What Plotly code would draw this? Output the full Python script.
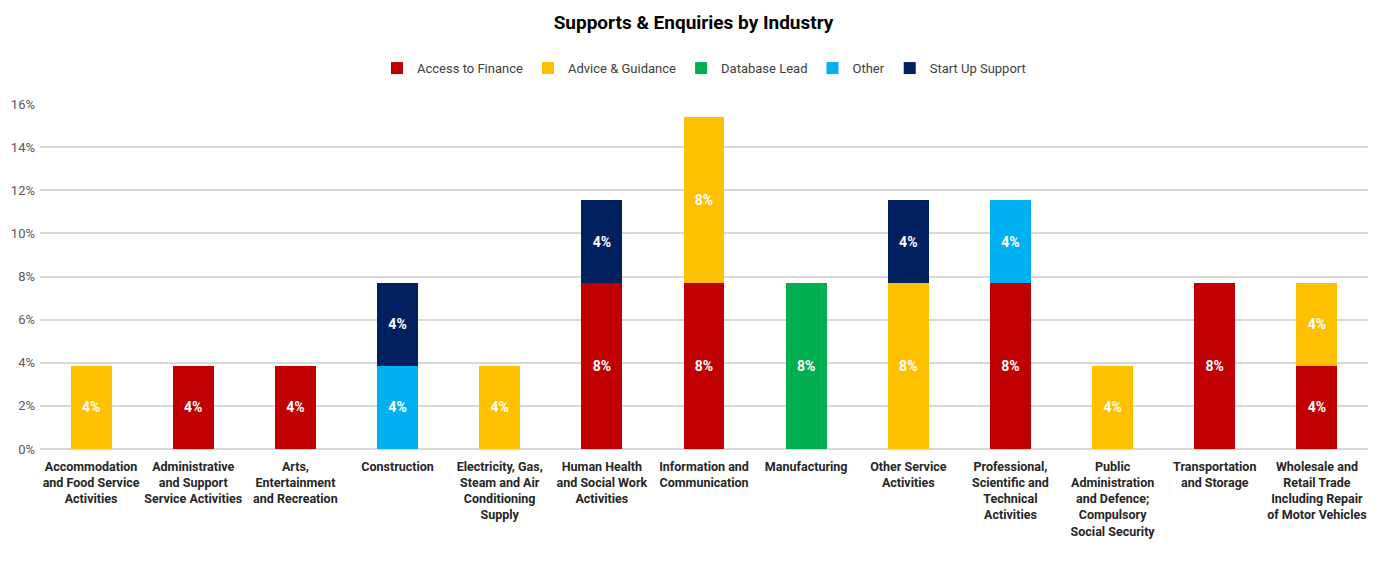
import plotly.graph_objects as go

categories = [
    "Accommodation<br>and Food Service<br>Activities",
    "Administrative<br>and Support<br>Service Activities",
    "Arts,<br>Entertainment<br>and Recreation",
    "Construction",
    "Electricity, Gas,<br>Steam and Air<br>Conditioning<br>Supply",
    "Human Health<br>and Social Work<br>Activities",
    "Information and<br>Communication",
    "Manufacturing",
    "Other Service<br>Activities",
    "Professional,<br>Scientific and<br>Technical<br>Activities",
    "Public<br>Administration<br>and Defence;<br>Compulsory<br>Social Security",
    "Transportation<br>and Storage",
    "Wholesale and<br>Retail Trade<br>Including Repair<br>of Motor Vehicles",
]

# percentages of all supports & enquiries
access_to_finance = [None, 3.85, 3.85, None, None, 7.69, 7.69, None, None, 7.69, None, 7.69, 3.85]
advice_guidance   = [3.85, None, None, None, 3.85, None, 7.69, None, 7.69, None, 3.85, None, 3.85]
database_lead     = [None, None, None, None, None, None, None, 7.69, None, None, None, None, None]
other             = [None, None, None, 3.85, None, None, None, None, None, 3.85, None, None, None]
start_up_support  = [None, None, None, 3.85, None, 3.85, None, None, 3.85, None, None, None, None]

series = [
    ("Access to Finance", access_to_finance, "#C00000"),
    ("Advice & Guidance", advice_guidance, "#FFC000"),
    ("Database Lead", database_lead, "#00B050"),
    ("Other", other, "#00B0F0"),
    ("Start Up Support", start_up_support, "#002060"),
]

FONT = "Roboto, Lato, sans-serif"
W, H = 1371, 557  # page has an 8px body margin

fig = go.Figure()
for name, vals, color in series:
    fig.add_trace(go.Bar(
        name=name, x=categories, y=vals,
        marker=dict(color=color, line=dict(width=0)),
        texttemplate="<b>%{y:.0f}%</b>", textposition="inside",
        insidetextanchor="middle",
        textfont=dict(color="white", size=14, family=FONT),
        hoverinfo="skip",
    ))

fig.update_layout(
    barmode="stack",
    bargap=0.6,
    width=W, height=H,
    margin=dict(l=32, r=11, t=96, b=116),
    paper_bgcolor="white", plot_bgcolor="white",
    font=dict(family=FONT),
    title=dict(text="<b>Supports & Enquiries by Industry</b>", x=0.5, xanchor="center",
               y=1 - 14 / H, yanchor="middle",
               font=dict(size=19, color="black", family=FONT)),
    legend=dict(orientation="h", x=0.5, xanchor="center", y=1.104, yanchor="middle",
                font=dict(size=13, color="#404040", family=FONT),
                traceorder="normal", itemwidth=30, tracegroupgap=0),
    uniformtext=dict(mode="show", minsize=10),
)
fig.update_yaxes(range=[0, 16], dtick=2, ticksuffix="%", showgrid=True, automargin=False,
                 gridcolor="#D9D9D9", gridwidth=1.5, zeroline=True, zerolinecolor="#D9D9D9",
                 zerolinewidth=1.5,
                 tickfont=dict(size=13, color="#595959", family=FONT), ticklabelstandoff=4)
fig.update_xaxes(tickangle=0, showline=False, ticklabelstandoff=8, automargin=False,
                 tickfont=dict(size=12.5, color="#262626", family=FONT))
fig.update_xaxes(tickvals=categories, ticktext=["<b>" + c + "</b>" for c in categories])

fig.write_html("out.html")
